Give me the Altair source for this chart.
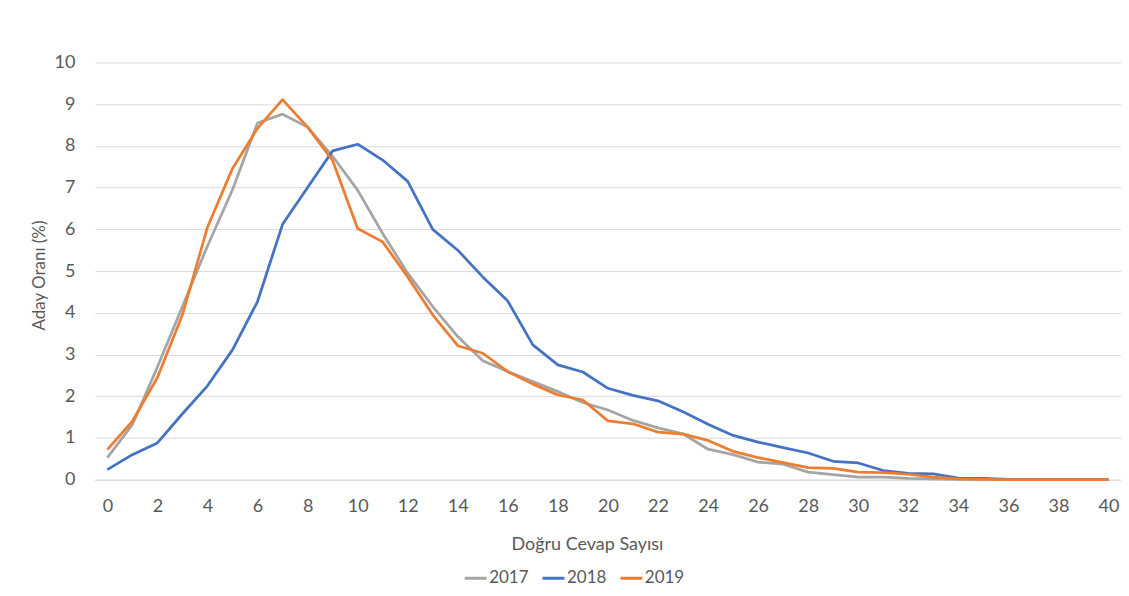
import altair as alt
import pandas as pd

correct = list(range(0, 41))
tick_values = list(range(0, 41, 2))
years = ["2017", "2018", "2019"]
colors = ["#A5A5A5", "#4472C4", "#ED7D31"]

y2017 = [0.53, 1.32, 2.70, 4.15, 5.60, 6.95, 8.55, 8.76, 8.45, 7.75, 6.94, 5.90, 4.95, 4.15, 3.43,
         2.85, 2.59, 2.35, 2.11, 1.85, 1.67, 1.42, 1.24, 1.10, 0.73, 0.60, 0.42, 0.37, 0.18, 0.12,
         0.06, 0.06, 0.03, 0.02, 0.01, 0.01, 0.0, 0.0, 0.0, 0.0, 0.0]
y2018 = [0.24, 0.60, 0.88, 1.58, 2.25, 3.11, 4.27, 6.12, 7.00, 7.88, 8.04, 7.66, 7.15, 6.00, 5.50,
         4.86, 4.28, 3.23, 2.75, 2.58, 2.19, 2.02, 1.89, 1.63, 1.33, 1.06, 0.90, 0.77, 0.64, 0.44,
         0.40, 0.22, 0.15, 0.14, 0.04, 0.03, 0.01, 0.01, 0.0, 0.0, 0.0]
y2019 = [0.72, 1.40, 2.45, 3.95, 6.05, 7.46, 8.42, 9.11, 8.45, 7.65, 6.02, 5.70, 4.86, 3.95, 3.21,
         3.03, 2.59, 2.29, 2.03, 1.91, 1.41, 1.34, 1.14, 1.09, 0.94, 0.68, 0.53, 0.41, 0.29, 0.27,
         0.18, 0.17, 0.13, 0.06, 0.02, 0.01, 0.0, 0.0, 0.0, 0.0, 0.0]

rows = []
for yr, vals in zip(years, [y2017, y2018, y2019]):
    for i, v in enumerate(vals):
        rows.append({"Doğru": correct[i], "Oran": v, "Yıl": yr})
df = pd.DataFrame(rows)

FONT = "Lato"
TXT = "#595959"

chart = alt.Chart(df).mark_line(strokeWidth=2.75, strokeJoin="round").encode(
    x=alt.X("Doğru:Q",
            scale=alt.Scale(domain=[-0.5, 40.5], nice=False, zero=False),
            axis=alt.Axis(values=tick_values, title="Doğru Cevap Sayısı", grid=False,
                          ticks=False, tickSize=0, domain=True, domainColor="#D9D9D9",
                          domainWidth=1, labelPadding=27, labelBaseline="middle",
                          labelFontSize=18, labelColor=TXT, labelFont=FONT,
                          titleFontSize=18, titleColor=TXT, titleFont=FONT,
                          titleFontWeight="normal", titleBaseline="middle",
                          titleAlign="center", titleX=493, titleY=65, labelFlush=False)),
    y=alt.Y("Oran:Q",
            scale=alt.Scale(domain=[0, 10], nice=False),
            axis=alt.Axis(values=list(range(0, 11)), title="Aday Oranı (%)", grid=True,
                          gridColor="#D9D9D9", gridWidth=1, ticks=False, tickSize=0,
                          domain=False, labelPadding=20, labelFontSize=18, labelColor=TXT,
                          labelFont=FONT, labelBaseline="middle",
                          titleFontSize=17, titleColor=TXT, titleFont=FONT,
                          titleFontWeight="normal", titleAngle=270, titleBaseline="middle",
                          titleAlign="center", titleX=-55, titleY=213)),
    color=alt.Color("Yıl:N",
                    scale=alt.Scale(domain=years, range=colors),
                    legend=alt.Legend(title=None, orient="none", direction="horizontal",
                                      legendX=369, legendY=504, columns=3,
                                      columnPadding=7, labelOffset=1,
                                      symbolType="stroke", symbolStrokeWidth=3,
                                      symbolSize=484, labelFontSize=17,
                                      labelColor=TXT, labelFont=FONT)),
    order=alt.Order("Doğru:Q"),
).properties(
    width=1028,
    height=418,
    autosize=alt.AutoSizeParams(type="none"),
    padding={"left": 87, "top": 54, "right": 0, "bottom": 108},
).configure(background="white").configure_view(stroke=None, strokeWidth=0)

chart.save("out.html", embed_options={"renderer": "svg", "actions": False})
